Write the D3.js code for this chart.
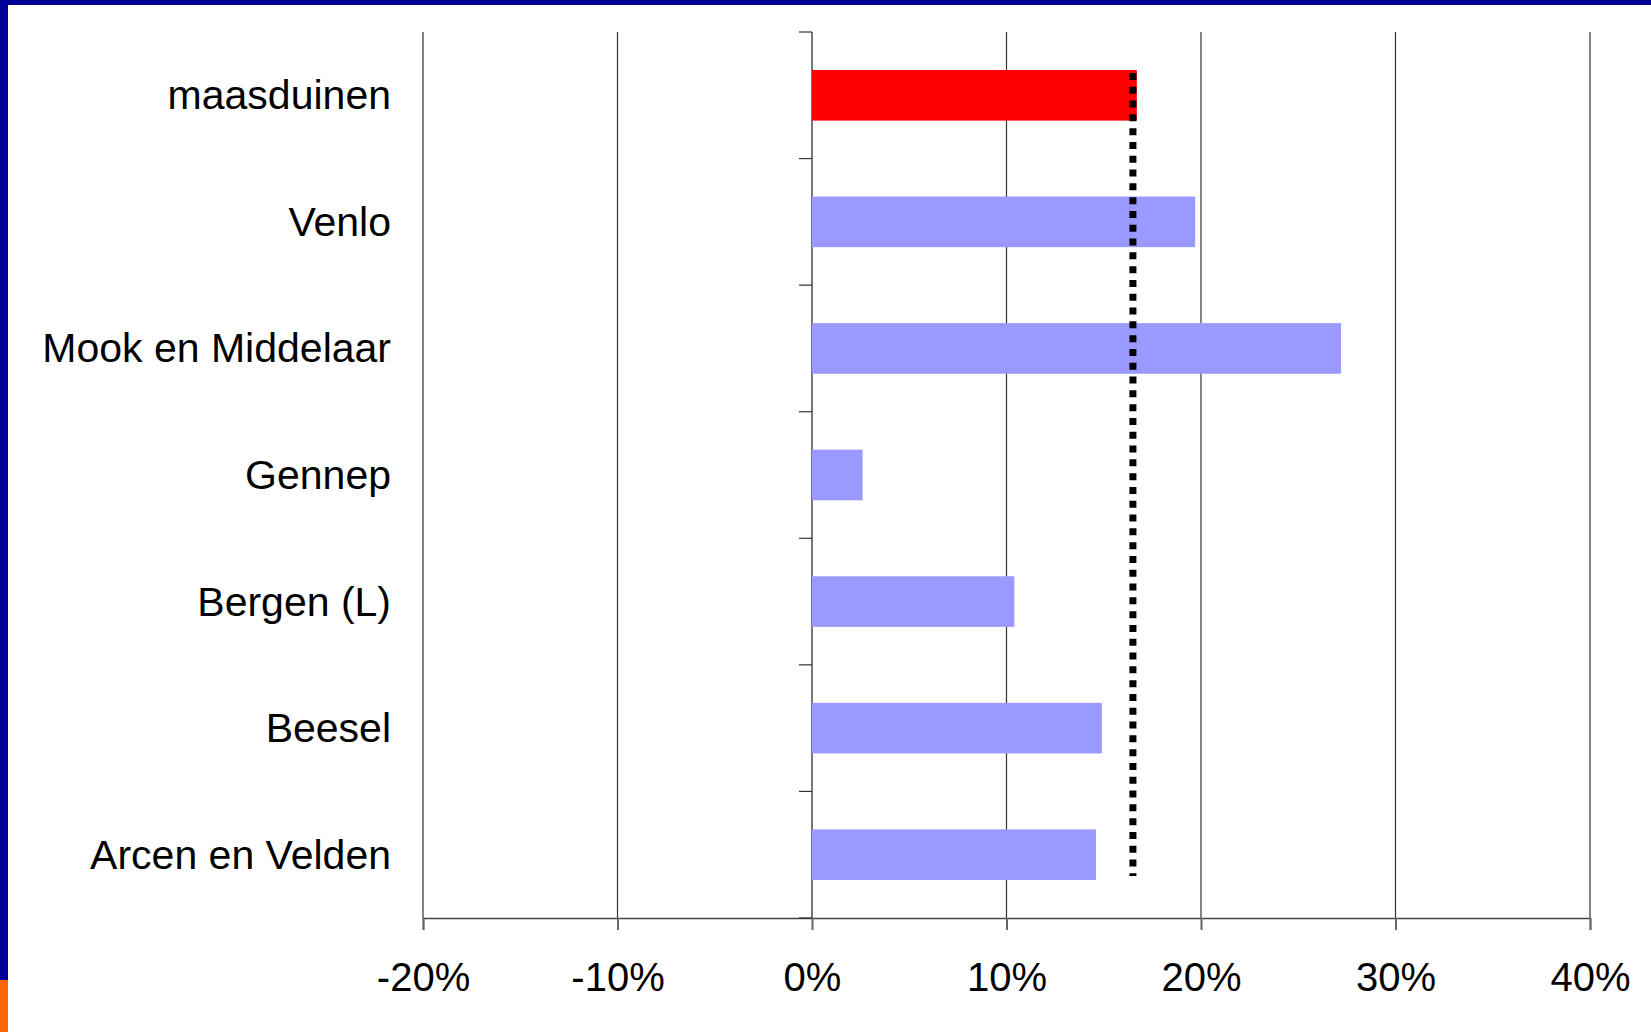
<!DOCTYPE html>
<html>
<head>
<meta charset="utf-8">
<script src="https://cdn.jsdelivr.net/npm/d3@7"></script>
<style>
  body { margin: 0; background: #fff; }
  svg { display: block; font-family: "Liberation Sans", Arial, sans-serif; }
</style>
</head>
<body>
<svg width="1651" height="1032"></svg>
<script>
// gemeenten, van boven naar beneden
var gemeenten = ["maasduinen", "Venlo", "Mook en Middelaar", "Gennep", "Bergen (L)", "Beesel", "Arcen en Velden"];
var waarden = [16.7, 19.7, 27.2, 2.6, 10.4, 14.9, 14.6];
var gemiddelde = 16.5;
var xTicks = [-20, -10, 0, 10, 20, 30, 40];

var svg = d3.select("svg");

// slide frame
svg.append("rect").attr("x", 0).attr("y", 0).attr("width", 1651).attr("height", 5).attr("fill", "#000099");
svg.append("rect").attr("x", 0).attr("y", 0).attr("width", 8).attr("height", 980).attr("fill", "#000099");
svg.append("rect").attr("x", 0).attr("y", 980).attr("width", 8).attr("height", 52).attr("fill", "#FF6600");

var xScale = d3.scaleLinear().domain([-20, 40]).range([423, 1590]);
var yScale = d3.scaleBand().domain(gemeenten).range([32, 918]).paddingInner(0.6).paddingOuter(0.3);
var yBand = d3.scaleBand().domain(gemeenten).range([32, 918]);

// gridlines
svg.append("g")
  .selectAll("line")
  .data(xTicks)
  .enter().append("line")
  .attr("x1", d => xScale(d)).attr("x2", d => xScale(d))
  .attr("y1", 32).attr("y2", 918)
  .attr("stroke", d => d == 0 ? "#777" : "#333")
  .attr("stroke-width", d => d == 0 ? 2 : 1.2);

// bars
svg.append("g")
  .selectAll("rect")
  .data(gemeenten)
  .enter().append("rect")
  .attr("x", xScale(0))
  .attr("y", d => yScale(d))
  .attr("width", (d, i) => xScale(waarden[i]) - xScale(0))
  .attr("height", yScale.bandwidth())
  .attr("fill", (d, i) => i == 0 ? "#FF0000" : "#9999FF");

// x axis
var xAxis = d3.axisBottom(xScale)
  .tickValues(xTicks)
  .tickSize(12)
  .tickFormat(d => d + "%");

svg.append("g")
  .attr("transform", "translate(0,918)")
  .call(xAxis)
  .call(g => g.select(".domain").attr("stroke", "#444").attr("stroke-width", 1.5))
  .call(g => g.selectAll(".tick line").attr("stroke", "#666").attr("stroke-width", 2))
  .call(g => g.selectAll(".tick text")
    .attr("y", 73).attr("dy", null)
    .attr("font-size", 40).attr("font-family", "Liberation Sans, Arial, sans-serif")
    .attr("fill", "#000"));

// category ticks on the 0 line (band boundaries)
var grenzen = gemeenten.map(d => yBand(d)).concat([yBand.range()[1]]);
svg.append("g")
  .selectAll("line")
  .data(grenzen)
  .enter().append("line")
  .attr("x1", xScale(0) - 13).attr("x2", xScale(0))
  .attr("y1", d => d).attr("y2", d => d)
  .attr("stroke", "#333")
  .attr("stroke-width", 1.2);

// labels
svg.append("g")
  .selectAll("text")
  .data(gemeenten)
  .enter().append("text")
  .attr("x", 391)
  .attr("y", d => yBand(d) + yBand.bandwidth() / 2)
  .attr("dy", 14)
  .attr("text-anchor", "end")
  .attr("font-size", 41)
  .attr("fill", "#000")
  .text(d => d);

// dotted average line
svg.append("line")
  .attr("x1", xScale(gemiddelde)).attr("x2", xScale(gemiddelde))
  .attr("y1", yScale(gemeenten[0]) + 3)
  .attr("y2", yScale(gemeenten[gemeenten.length - 1]) + yScale.bandwidth() - 4)
  .attr("stroke", "#000")
  .attr("stroke-width", 7)
  .attr("stroke-dasharray", "7,6.8");
</script>
</body>
</html>
